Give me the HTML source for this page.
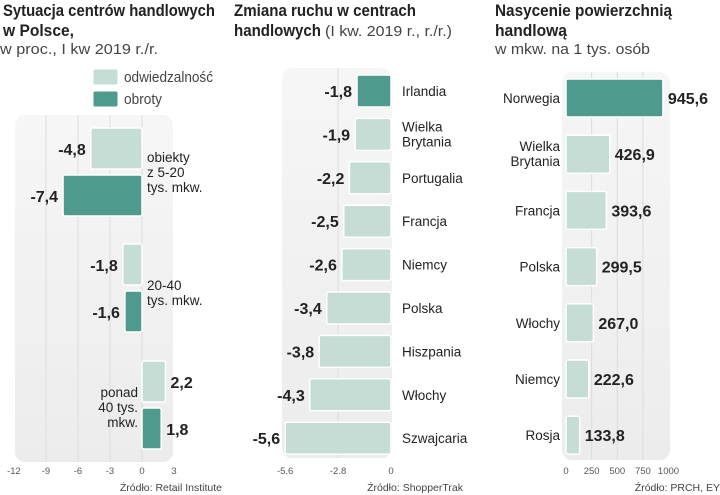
<!DOCTYPE html>
<html><head><meta charset="utf-8">
<style>
body{margin:0;background:#fff;width:720px;height:495px;overflow:hidden;font-family:"Liberation Sans Narrow","Liberation Sans",sans-serif;}
svg{display:block}
.t{font-weight:bold;font-size:17px;fill:#222}
.s{font-size:15px;fill:#444}
.v{font-weight:bold;font-size:16px;fill:#222}
.l{font-size:13.5px;fill:#222}
.k{font-size:9.5px;fill:#555}
.src{font-size:10.5px;fill:#444}
</style></head><body>
<svg id="c" width="720" height="495">
<defs>
<linearGradient id="bg" x1="0" x2="0" y1="0" y2="1"><stop offset="0" stop-color="#f6f6f6"/><stop offset="1" stop-color="#ececec"/></linearGradient>
</defs>
<g>
<text class="t" x="3" y="16" textLength="212" lengthAdjust="spacingAndGlyphs">Sytuacja centrów handlowych</text>
<text class="t" x="3" y="36" textLength="71" lengthAdjust="spacingAndGlyphs">w Polsce,</text>
<text class="s" x="0" y="54" textLength="158" lengthAdjust="spacingAndGlyphs">w proc., I kw 2019 r./r.</text>
</g>
<g>
<rect x="93" y="69" width="25" height="16" rx="2" fill="#c5ddd5" stroke="#fff"/>
<text class="s" x="124" y="82" font-size="14" textLength="89" lengthAdjust="spacingAndGlyphs">odwiedzalność</text>
<rect x="93" y="91" width="25" height="16" rx="2" fill="#4e9a8c" stroke="#fff"/>
<text class="s" x="124" y="104" font-size="14" textLength="38" lengthAdjust="spacingAndGlyphs">obroty</text>
</g>
<g>
<text class="t" x="234" y="16" textLength="182" lengthAdjust="spacingAndGlyphs">Zmiana ruchu w centrach</text>
<text class="t" x="234" y="36" textLength="87" lengthAdjust="spacingAndGlyphs">handlowych</text>
<text class="s" x="325" y="36" font-size="14" textLength="127" lengthAdjust="spacingAndGlyphs">(I kw. 2019 r., r./r.)</text>
</g>
<g>
<text class="t" x="495" y="16" textLength="177" lengthAdjust="spacingAndGlyphs">Nasycenie powierzchnią</text>
<text class="t" x="495" y="36" textLength="72" lengthAdjust="spacingAndGlyphs">handlową</text>
<text class="s" x="495" y="54" textLength="155" lengthAdjust="spacingAndGlyphs">w mkw. na 1 tys. osób</text>
</g>
<text class="src" x="222" y="491" text-anchor="end">Źródło: Retail Institute</text>
<text class="src" x="463" y="491" text-anchor="end">Źródło: ShopperTrak</text>
<text class="src" x="720" y="491" text-anchor="end">Źródło: PRCH, EY</text>
<g id="g1"></g><g id="g2"></g><g id="g3"></g>
</svg>
<script>
const p1Groups=["obiekty\nz 5-20\ntys. mkw.","20-40\ntys. mkw.","ponad\n40 tys.\nmkw."];
const p1Visits=[-4.8,-1.8,2.2];
const p1Sales=[-7.4,-1.6,1.8];
const p1Ticks=[-12,-9,-6,-3,0,3];
const p2Countries=["Irlandia","Wielka\nBrytania","Portugalia","Francja","Niemcy","Polska","Hiszpania","Włochy","Szwajcaria"];
const p2Values=[-1.8,-1.9,-2.2,-2.5,-2.6,-3.4,-3.8,-4.3,-5.6];
const p2Ticks=[-5.6,-2.8,0];
const p3Countries=["Norwegia","Wielka\nBrytania","Francja","Polska","Włochy","Niemcy","Rosja"];
const p3Values=[945.6,426.9,393.6,299.5,267.0,222.6,133.8];
const p3Ticks=[0,250,500,750,1000];

const NS="http://www.w3.org/2000/svg";
function el(parent,tag,attrs,text){const e=document.createElementNS(NS,tag);for(const k in attrs)e.setAttribute(k,attrs[k]);if(text!==undefined)e.textContent=text;parent.appendChild(e);return e;}
function fmt(v,d){return v.toFixed(d).replace('.',',');}
function multi(parent,x,y,lines,anchor,lh){const t=el(parent,'text',{class:'l',x:x,y:y,'text-anchor':anchor});lines.forEach((s,i)=>{el(t,'tspan',{x:x,dy:i?lh:0},s);});return t;}
const DARK="#4e9a8c",LIGHT="#c5ddd5";

// Panel 1
(function(){
 const g=document.getElementById('g1');
 const x=v=>142+(v)*10.67;
 const bg=el(g,'rect',{x:15,y:115,width:158,height:347,rx:10,fill:'url(#bg)'});
 
 
 p1Ticks.forEach(t=>{
  if(t>-12&&t<3){const gl=el(g,'line',{x1:x(t),x2:x(t),y1:115,y2:462,stroke:'#dcdcdc'});
   
   }
  const tl=el(g,'text',{class:'k',x:x(t),y:474,'text-anchor':'middle'},t<0?'-'+Math.abs(t):String(t));
  
  
 });
 const starts=[128,244,361];
 p1Groups.forEach((name,i)=>{
  [[p1Visits[i],LIGHT,starts[i]],[p1Sales[i],DARK,starts[i]+47]].forEach(([v,c,y],j)=>{
   const x0=Math.min(x(0),x(v)),w=Math.abs(x(v)-x(0));
   const r=el(g,'rect',{x:x0,y:y,width:w,height:41,rx:2,fill:c,stroke:'#fff','stroke-width':1.5});
   
   
   const lx=v<0?x0-5:x0+w+5;
   const tv=el(g,'text',{class:'v',x:lx,y:y+27,'text-anchor':v<0?'end':'start'},fmt(v,1));
   
   
  });
  const lines=name.split('\n');
  let t;
  if(i===2) t=multi(g,138,397,lines,'end',15);
  else t=multi(g,147,i===0?162:290,lines,'start',15);
  
  
 });
})();

// Panel 2
(function(){
 const g=document.getElementById('g2');
 const x=v=>391+v*18.9;
 const bg=el(g,'rect',{x:282,y:68,width:110,height:390,rx:10,fill:'url(#bg)'});
 
 
 p2Ticks.forEach(t=>{
  if(t>-5.6&&t<0){const gl=el(g,'line',{x1:x(t),x2:x(t),y1:68,y2:458,stroke:'#dcdcdc'});
   
   }
  const tl=el(g,'text',{class:'k',x:x(t),y:474,'text-anchor':'middle'},String(t));
  
  
 });
 p2Countries.forEach((name,i)=>{
  const cy=91+i*43.4,v=p2Values[i];
  const r=el(g,'rect',{x:x(v),y:cy-16,width:x(0)-x(v),height:32,rx:2,fill:i===0?DARK:LIGHT,stroke:'#fff','stroke-width':1.5});
  
  
  const tv=el(g,'text',{class:'v',x:x(v)-5,y:cy+6,'text-anchor':'end'},fmt(v,1));
  
  
  const lines=name.split('\n');
  const t=multi(g,402,lines.length>1?cy-3:cy+5,lines,'start',15);
  
  
 });
})();

// Panel 3
(function(){
 const g=document.getElementById('g3');
 const x=v=>566+v*0.1025;
 const bg=el(g,'rect',{x:562,y:72,width:108,height:388,rx:10,fill:'url(#bg)'});
 
 
 p3Ticks.forEach(t=>{
  if(t>0&&t<1000){const gl=el(g,'line',{x1:x(t),x2:x(t),y1:72,y2:460,stroke:'#dcdcdc'});
   
   }
  const tl=el(g,'text',{class:'k',x:x(t),y:474,'text-anchor':'middle'},String(t));
  
  
 });
 p3Countries.forEach((name,i)=>{
  const cy=98+i*56.2,v=p3Values[i];
  const r=el(g,'rect',{x:x(0),y:cy-19,width:x(v)-x(0),height:38,rx:2,fill:i===0?DARK:LIGHT,stroke:'#fff','stroke-width':1.5});
  
  
  const tv=el(g,'text',{class:'v',x:x(v)+5,y:cy+6,'text-anchor':'start'},fmt(v,1));
  
  
  const lines=name.split('\n');
  const t=multi(g,560,lines.length>1?cy-3:cy+5,lines,'end',15);
  
  
 });
})();
</script>
</body></html>
